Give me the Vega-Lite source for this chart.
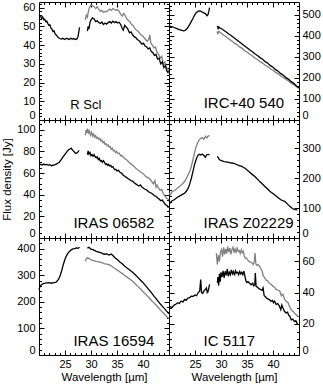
{
"$schema":"https://vega.github.io/schema/vega-lite/v6.json",
"background":"white",
"padding":{"left":1,"top":1,"right":0,"bottom":0},
"columns":2,
"spacing":0,
"bounds":"flush",
"datasets":{
"a":[
{"s":"b1","x":20,"y":56},{"s":"b1","x":20.3,"y":55.5},{"s":"b1","x":20.5,"y":54.2},{"s":"b1","x":20.7,"y":55},{"s":"b1","x":20.9,"y":53.5},{"s":"b1","x":21.1,"y":53.8},{"s":"b1","x":21.3,"y":52.5},{"s":"b1","x":21.5,"y":52.8},{"s":"b1","x":21.7,"y":51.5},{"s":"b1","x":21.9,"y":50.5},{"s":"b1","x":22.1,"y":50.8},{"s":"b1","x":22.3,"y":49},{"s":"b1","x":22.5,"y":48.5},{"s":"b1","x":22.7,"y":47.2},{"s":"b1","x":22.9,"y":47.5},{"s":"b1","x":23.1,"y":46},{"s":"b1","x":23.3,"y":45.4},{"s":"b1","x":23.5,"y":44.8},{"s":"b1","x":23.7,"y":44},{"s":"b1","x":24,"y":43.5},{"s":"b1","x":24.3,"y":43.2},{"s":"b1","x":24.6,"y":43.6},{"s":"b1","x":24.9,"y":43},{"s":"b1","x":25.2,"y":43.5},{"s":"b1","x":25.5,"y":43.4},{"s":"b1","x":25.8,"y":43},{"s":"b1","x":26.1,"y":43.6},{"s":"b1","x":26.4,"y":43.2},{"s":"b1","x":26.7,"y":43.5},{"s":"b1","x":27,"y":43},{"s":"b1","x":27.3,"y":43.3},{"s":"b1","x":27.5,"y":44.5},{"s":"b1","x":27.65,"y":47},{"s":"b1","x":27.8,"y":49.5},
{"s":"b2","x":29.3,"y":47.5},{"s":"b2","x":29.45,"y":50},{"s":"b2","x":29.6,"y":48.5},{"s":"b2","x":29.8,"y":52},{"s":"b2","x":30,"y":53.5},{"s":"b2","x":30.3,"y":54.5},{"s":"b2","x":30.6,"y":54},{"s":"b2","x":30.9,"y":52.5},{"s":"b2","x":31.2,"y":53},{"s":"b2","x":31.5,"y":52},{"s":"b2","x":31.8,"y":51.5},{"s":"b2","x":32.1,"y":52.3},{"s":"b2","x":32.4,"y":51},{"s":"b2","x":32.7,"y":51.8},{"s":"b2","x":33,"y":51.2},{"s":"b2","x":33.3,"y":52},{"s":"b2","x":33.6,"y":52.5},{"s":"b2","x":33.9,"y":51.8},{"s":"b2","x":34.2,"y":52.8},{"s":"b2","x":34.5,"y":52},{"s":"b2","x":34.8,"y":52.5},{"s":"b2","x":35.1,"y":51.8},{"s":"b2","x":35.4,"y":52.2},{"s":"b2","x":35.7,"y":51},{"s":"b2","x":36,"y":49},{"s":"b2","x":36.2,"y":48},{"s":"b2","x":36.5,"y":50.5},{"s":"b2","x":36.8,"y":49.5},{"s":"b2","x":37.1,"y":48.5},{"s":"b2","x":37.4,"y":46.5},{"s":"b2","x":37.7,"y":47},{"s":"b2","x":38,"y":45.5},{"s":"b2","x":38.3,"y":44.5},{"s":"b2","x":38.6,"y":44},{"s":"b2","x":38.9,"y":43},{"s":"b2","x":39.2,"y":42.5},{"s":"b2","x":39.5,"y":41.5},{"s":"b2","x":39.8,"y":40.5},{"s":"b2","x":40.1,"y":41},{"s":"b2","x":40.4,"y":39.5},{"s":"b2","x":40.7,"y":39},{"s":"b2","x":41,"y":38},{"s":"b2","x":41.3,"y":38.5},{"s":"b2","x":41.6,"y":36.5},{"s":"b2","x":41.9,"y":36},{"s":"b2","x":42.2,"y":34.5},{"s":"b2","x":42.5,"y":35},{"s":"b2","x":42.8,"y":32.5},{"s":"b2","x":43.1,"y":33},{"s":"b2","x":43.4,"y":30},{"s":"b2","x":43.7,"y":31},{"s":"b2","x":44,"y":28},{"s":"b2","x":44.3,"y":29},{"s":"b2","x":44.6,"y":26},{"s":"b2","x":44.9,"y":25},
{"s":"g","x":28.9,"y":53.5},{"s":"g","x":29.1,"y":56},{"s":"g","x":29.3,"y":55},{"s":"g","x":29.5,"y":58},{"s":"g","x":29.7,"y":60},{"s":"g","x":30,"y":61.5},{"s":"g","x":30.3,"y":61},{"s":"g","x":30.6,"y":60.5},{"s":"g","x":30.9,"y":59.5},{"s":"g","x":31.2,"y":60.5},{"s":"g","x":31.5,"y":59},{"s":"g","x":31.8,"y":58},{"s":"g","x":32.1,"y":58.5},{"s":"g","x":32.4,"y":57.5},{"s":"g","x":32.7,"y":58},{"s":"g","x":33,"y":57.8},{"s":"g","x":33.3,"y":58.5},{"s":"g","x":33.6,"y":59.2},{"s":"g","x":33.9,"y":58.5},{"s":"g","x":34.2,"y":59.5},{"s":"g","x":34.5,"y":59},{"s":"g","x":34.8,"y":58.5},{"s":"g","x":35.1,"y":59},{"s":"g","x":35.4,"y":58},{"s":"g","x":35.7,"y":56.5},{"s":"g","x":36,"y":55.5},{"s":"g","x":36.3,"y":57},{"s":"g","x":36.6,"y":55.5},{"s":"g","x":36.9,"y":54},{"s":"g","x":37.2,"y":53},{"s":"g","x":37.5,"y":52.5},{"s":"g","x":37.8,"y":51},{"s":"g","x":38.1,"y":50.5},{"s":"g","x":38.4,"y":49},{"s":"g","x":38.7,"y":48},{"s":"g","x":39,"y":47.5},{"s":"g","x":39.3,"y":46.5},{"s":"g","x":39.6,"y":45.5},{"s":"g","x":39.9,"y":45},{"s":"g","x":40.2,"y":44},{"s":"g","x":40.5,"y":43},{"s":"g","x":40.8,"y":42},{"s":"g","x":41.1,"y":43},{"s":"g","x":41.3,"y":45.5},{"s":"g","x":41.5,"y":41},{"s":"g","x":41.8,"y":40},{"s":"g","x":42.1,"y":38.5},{"s":"g","x":42.4,"y":39},{"s":"g","x":42.7,"y":36},{"s":"g","x":43,"y":35},{"s":"g","x":43.3,"y":33},{"s":"g","x":43.6,"y":34},{"s":"g","x":43.9,"y":30},{"s":"g","x":44.2,"y":31},{"s":"g","x":44.5,"y":28},{"s":"g","x":44.8,"y":27},{"s":"g","x":45,"y":26}
],
"b":[
{"s":"b1","x":20,"y":446},{"s":"b1","x":20.5,"y":443},{"s":"b1","x":21,"y":439},{"s":"b1","x":21.5,"y":434},{"s":"b1","x":22,"y":429},{"s":"b1","x":22.5,"y":425},{"s":"b1","x":22.8,"y":423},{"s":"b1","x":23.1,"y":425},{"s":"b1","x":23.4,"y":432},{"s":"b1","x":23.7,"y":442},{"s":"b1","x":24,"y":454},{"s":"b1","x":24.3,"y":468},{"s":"b1","x":24.6,"y":482},{"s":"b1","x":24.9,"y":497},{"s":"b1","x":25.2,"y":508},{"s":"b1","x":25.5,"y":515},{"s":"b1","x":25.8,"y":518},{"s":"b1","x":26.1,"y":517},{"s":"b1","x":26.4,"y":512},{"s":"b1","x":26.7,"y":508},{"s":"b1","x":27,"y":505},{"s":"b1","x":27.3,"y":495},{"s":"b1","x":27.5,"y":500},{"s":"b1","x":27.65,"y":514},{"s":"b1","x":27.8,"y":533},
{"s":"b2","x":29.3,"y":446},{"s":"b2","x":29.45,"y":434},{"s":"b2","x":29.6,"y":442},{"s":"b2","x":29.8,"y":436},{"s":"b2","x":30,"y":435},{"s":"b2","x":30.5,"y":426},{"s":"b2","x":31,"y":418},{"s":"b2","x":31.5,"y":408},{"s":"b2","x":32,"y":400},{"s":"b2","x":32.5,"y":390},{"s":"b2","x":33,"y":381},{"s":"b2","x":33.5,"y":371},{"s":"b2","x":34,"y":362},{"s":"b2","x":34.5,"y":352},{"s":"b2","x":35,"y":343},{"s":"b2","x":35.5,"y":333},{"s":"b2","x":36,"y":325},{"s":"b2","x":36.5,"y":314},{"s":"b2","x":37,"y":306},{"s":"b2","x":37.5,"y":296},{"s":"b2","x":38,"y":288},{"s":"b2","x":38.5,"y":277},{"s":"b2","x":39,"y":269},{"s":"b2","x":39.5,"y":258},{"s":"b2","x":40,"y":250},{"s":"b2","x":40.5,"y":239},{"s":"b2","x":41,"y":231},{"s":"b2","x":41.5,"y":220},{"s":"b2","x":42,"y":212},{"s":"b2","x":42.5,"y":201},{"s":"b2","x":43,"y":193},{"s":"b2","x":43.5,"y":182},{"s":"b2","x":44,"y":174},{"s":"b2","x":44.5,"y":163},{"s":"b2","x":45,"y":153},
{"s":"g","x":29.2,"y":420},{"s":"g","x":29.4,"y":410},{"s":"g","x":29.6,"y":421},{"s":"g","x":30,"y":413},{"s":"g","x":30.5,"y":402},{"s":"g","x":31,"y":395},{"s":"g","x":31.5,"y":384},{"s":"g","x":32,"y":377},{"s":"g","x":32.5,"y":366},{"s":"g","x":33,"y":359},{"s":"g","x":33.5,"y":348},{"s":"g","x":34,"y":341},{"s":"g","x":34.5,"y":330},{"s":"g","x":35,"y":323},{"s":"g","x":35.5,"y":312},{"s":"g","x":36,"y":305},{"s":"g","x":36.5,"y":294},{"s":"g","x":37,"y":287},{"s":"g","x":37.5,"y":277},{"s":"g","x":38,"y":270},{"s":"g","x":38.5,"y":260},{"s":"g","x":39,"y":253},{"s":"g","x":39.5,"y":243},{"s":"g","x":40,"y":236},{"s":"g","x":40.5,"y":226},{"s":"g","x":41,"y":219},{"s":"g","x":41.5,"y":209},{"s":"g","x":42,"y":202},{"s":"g","x":42.5,"y":192},{"s":"g","x":43,"y":185},{"s":"g","x":43.5,"y":175},{"s":"g","x":44,"y":167},{"s":"g","x":44.5,"y":158},{"s":"g","x":45,"y":150}
],
"c":[
{"s":"b1","x":20,"y":67},{"s":"b1","x":20.3,"y":68.2},{"s":"b1","x":20.6,"y":67.5},{"s":"b1","x":20.9,"y":68.3},{"s":"b1","x":21.2,"y":67.6},{"s":"b1","x":21.5,"y":68},{"s":"b1","x":21.8,"y":67.3},{"s":"b1","x":22.1,"y":67.8},{"s":"b1","x":22.4,"y":66.8},{"s":"b1","x":22.7,"y":67.2},{"s":"b1","x":23,"y":67.6},{"s":"b1","x":23.3,"y":68.2},{"s":"b1","x":23.6,"y":69},{"s":"b1","x":23.9,"y":70},{"s":"b1","x":24.2,"y":72},{"s":"b1","x":24.5,"y":74},{"s":"b1","x":24.8,"y":76},{"s":"b1","x":25.1,"y":78},{"s":"b1","x":25.4,"y":80},{"s":"b1","x":25.7,"y":81.5},{"s":"b1","x":26,"y":82.5},{"s":"b1","x":26.2,"y":83},{"s":"b1","x":26.4,"y":81.5},{"s":"b1","x":26.6,"y":80.5},{"s":"b1","x":26.9,"y":79},{"s":"b1","x":27.1,"y":78},{"s":"b1","x":27.3,"y":78.5},{"s":"b1","x":27.5,"y":79.5},{"s":"b1","x":27.7,"y":81},
{"s":"b2","x":29.3,"y":77},{"s":"b2","x":29.45,"y":80.5},{"s":"b2","x":29.6,"y":77.5},{"s":"b2","x":29.8,"y":79},{"s":"b2","x":30,"y":76},{"s":"b2","x":30.2,"y":77},{"s":"b2","x":30.4,"y":75.5},{"s":"b2","x":30.6,"y":77},{"s":"b2","x":30.8,"y":75},{"s":"b2","x":31,"y":74},{"s":"b2","x":31.2,"y":75},{"s":"b2","x":31.4,"y":72.5},{"s":"b2","x":31.6,"y":73.5},{"s":"b2","x":31.8,"y":71},{"s":"b2","x":32,"y":71.5},{"s":"b2","x":32.2,"y":70},{"s":"b2","x":32.4,"y":71.5},{"s":"b2","x":32.6,"y":70},{"s":"b2","x":32.8,"y":68},{"s":"b2","x":33,"y":68.5},{"s":"b2","x":33.2,"y":67},{"s":"b2","x":33.4,"y":68},{"s":"b2","x":33.6,"y":66.5},{"s":"b2","x":33.8,"y":67},{"s":"b2","x":34,"y":65.5},{"s":"b2","x":34.2,"y":66},{"s":"b2","x":34.4,"y":64},{"s":"b2","x":34.6,"y":63},{"s":"b2","x":34.8,"y":63.5},{"s":"b2","x":35,"y":62},{"s":"b2","x":35.3,"y":62.5},{"s":"b2","x":35.6,"y":60.5},{"s":"b2","x":35.9,"y":60},{"s":"b2","x":36.2,"y":58},{"s":"b2","x":36.5,"y":57},{"s":"b2","x":36.8,"y":56},{"s":"b2","x":37.1,"y":55},{"s":"b2","x":37.4,"y":54},{"s":"b2","x":37.7,"y":53},{"s":"b2","x":38,"y":52.5},{"s":"b2","x":38.3,"y":51},{"s":"b2","x":38.6,"y":50},{"s":"b2","x":38.9,"y":49},{"s":"b2","x":39.2,"y":48},{"s":"b2","x":39.5,"y":49},{"s":"b2","x":39.8,"y":47},{"s":"b2","x":40.1,"y":46},{"s":"b2","x":40.4,"y":45},{"s":"b2","x":40.7,"y":44.5},{"s":"b2","x":41,"y":43},{"s":"b2","x":41.3,"y":42},{"s":"b2","x":41.6,"y":41.5},{"s":"b2","x":41.9,"y":40.5},{"s":"b2","x":42.2,"y":39},{"s":"b2","x":42.5,"y":38.5},{"s":"b2","x":42.8,"y":37},{"s":"b2","x":43.1,"y":36},{"s":"b2","x":43.4,"y":34.5},{"s":"b2","x":43.7,"y":35},{"s":"b2","x":44,"y":33},{"s":"b2","x":44.3,"y":31},{"s":"b2","x":44.6,"y":30},{"s":"b2","x":44.9,"y":28},
{"s":"g","x":28.9,"y":95},{"s":"g","x":29.05,"y":100},{"s":"g","x":29.2,"y":97},{"s":"g","x":29.35,"y":101},{"s":"g","x":29.5,"y":97},{"s":"g","x":29.7,"y":99},{"s":"g","x":29.9,"y":95},{"s":"g","x":30.1,"y":97.5},{"s":"g","x":30.3,"y":94},{"s":"g","x":30.5,"y":96},{"s":"g","x":30.7,"y":93},{"s":"g","x":30.9,"y":94.5},{"s":"g","x":31.1,"y":92},{"s":"g","x":31.3,"y":93},{"s":"g","x":31.5,"y":91},{"s":"g","x":31.7,"y":92},{"s":"g","x":31.9,"y":89.5},{"s":"g","x":32.1,"y":90.5},{"s":"g","x":32.3,"y":88},{"s":"g","x":32.5,"y":89},{"s":"g","x":32.7,"y":86.5},{"s":"g","x":32.9,"y":87},{"s":"g","x":33.1,"y":85},{"s":"g","x":33.3,"y":86},{"s":"g","x":33.5,"y":84},{"s":"g","x":33.7,"y":84.5},{"s":"g","x":33.9,"y":82},{"s":"g","x":34.1,"y":83},{"s":"g","x":34.3,"y":80.5},{"s":"g","x":34.5,"y":81},{"s":"g","x":34.7,"y":79},{"s":"g","x":34.9,"y":80},{"s":"g","x":35.1,"y":78},{"s":"g","x":35.4,"y":78.5},{"s":"g","x":35.7,"y":76},{"s":"g","x":36,"y":76},{"s":"g","x":36.3,"y":74},{"s":"g","x":36.6,"y":73},{"s":"g","x":36.9,"y":72},{"s":"g","x":37.2,"y":70.5},{"s":"g","x":37.5,"y":69},{"s":"g","x":37.8,"y":68},{"s":"g","x":38.1,"y":67},{"s":"g","x":38.4,"y":65.5},{"s":"g","x":38.7,"y":64},{"s":"g","x":39,"y":63},{"s":"g","x":39.3,"y":62},{"s":"g","x":39.6,"y":60.5},{"s":"g","x":39.9,"y":60},{"s":"g","x":40.2,"y":58.5},{"s":"g","x":40.5,"y":57},{"s":"g","x":40.8,"y":56},{"s":"g","x":41.1,"y":55.5},{"s":"g","x":41.4,"y":54},{"s":"g","x":41.7,"y":52},{"s":"g","x":42,"y":50},{"s":"g","x":42.3,"y":53},{"s":"g","x":42.5,"y":47},{"s":"g","x":42.7,"y":49},{"s":"g","x":43,"y":46},{"s":"g","x":43.3,"y":44},{"s":"g","x":43.6,"y":45},{"s":"g","x":43.9,"y":41},{"s":"g","x":44.2,"y":39},{"s":"g","x":44.5,"y":37},{"s":"g","x":44.8,"y":36},{"s":"g","x":45,"y":35}
],
"d":[
{"s":"b1","x":20,"y":122},{"s":"b1","x":20.3,"y":118},{"s":"b1","x":20.6,"y":125},{"s":"b1","x":21,"y":128},{"s":"b1","x":21.5,"y":135},{"s":"b1","x":22,"y":140},{"s":"b1","x":22.5,"y":145},{"s":"b1","x":23,"y":150},{"s":"b1","x":23.4,"y":158},{"s":"b1","x":23.7,"y":167},{"s":"b1","x":24,"y":182},{"s":"b1","x":24.3,"y":200},{"s":"b1","x":24.6,"y":222},{"s":"b1","x":24.9,"y":245},{"s":"b1","x":25.2,"y":262},{"s":"b1","x":25.5,"y":275},{"s":"b1","x":25.8,"y":280},{"s":"b1","x":26.1,"y":278},{"s":"b1","x":26.4,"y":281},{"s":"b1","x":26.7,"y":276},{"s":"b1","x":27,"y":270},{"s":"b1","x":27.2,"y":278},{"s":"b1","x":27.5,"y":280},{"s":"b1","x":27.8,"y":279},
{"s":"g","x":20,"y":150},{"s":"g","x":20.3,"y":145},{"s":"g","x":20.6,"y":155},{"s":"g","x":21,"y":158},{"s":"g","x":21.5,"y":165},{"s":"g","x":22,"y":172},{"s":"g","x":22.5,"y":180},{"s":"g","x":23,"y":189},{"s":"g","x":23.5,"y":205},{"s":"g","x":24,"y":223},{"s":"g","x":24.3,"y":240},{"s":"g","x":24.6,"y":262},{"s":"g","x":24.9,"y":285},{"s":"g","x":25.2,"y":305},{"s":"g","x":25.5,"y":318},{"s":"g","x":25.8,"y":328},{"s":"g","x":26.1,"y":334},{"s":"g","x":26.4,"y":336},{"s":"g","x":26.7,"y":330},{"s":"g","x":27,"y":340},{"s":"g","x":27.3,"y":335},{"s":"g","x":27.5,"y":341},{"s":"g","x":27.8,"y":343},
{"s":"b2","x":29.3,"y":273},{"s":"b2","x":29.5,"y":268},{"s":"b2","x":29.7,"y":262},{"s":"b2","x":30.1,"y":259},{"s":"b2","x":30.6,"y":256},{"s":"b2","x":31,"y":255},{"s":"b2","x":31.5,"y":253},{"s":"b2","x":32,"y":251},{"s":"b2","x":32.5,"y":250},{"s":"b2","x":33,"y":246},{"s":"b2","x":33.5,"y":242},{"s":"b2","x":34,"y":240},{"s":"b2","x":34.3,"y":236},{"s":"b2","x":34.6,"y":234},{"s":"b2","x":35,"y":228},{"s":"b2","x":35.5,"y":220},{"s":"b2","x":36,"y":213},{"s":"b2","x":36.5,"y":206},{"s":"b2","x":37,"y":197},{"s":"b2","x":37.5,"y":188},{"s":"b2","x":38,"y":180},{"s":"b2","x":38.4,"y":173},{"s":"b2","x":39,"y":163},{"s":"b2","x":39.5,"y":155},{"s":"b2","x":40,"y":149},{"s":"b2","x":40.3,"y":145},{"s":"b2","x":41,"y":135},{"s":"b2","x":41.5,"y":128},{"s":"b2","x":42,"y":124},{"s":"b2","x":42.3,"y":122},{"s":"b2","x":43,"y":110},{"s":"b2","x":43.5,"y":102},{"s":"b2","x":43.8,"y":98},{"s":"b2","x":44.2,"y":95},{"s":"b2","x":44.7,"y":94}
],
"e":[
{"s":"b1","x":20,"y":246},{"s":"b1","x":20.2,"y":258},{"s":"b1","x":20.5,"y":265},{"s":"b1","x":20.8,"y":268},{"s":"b1","x":21.2,"y":270},{"s":"b1","x":21.6,"y":271},{"s":"b1","x":22,"y":272},{"s":"b1","x":22.4,"y":270},{"s":"b1","x":22.8,"y":272},{"s":"b1","x":23.2,"y":273},{"s":"b1","x":23.5,"y":278},{"s":"b1","x":23.8,"y":286},{"s":"b1","x":24.1,"y":300},{"s":"b1","x":24.4,"y":320},{"s":"b1","x":24.7,"y":342},{"s":"b1","x":25,"y":360},{"s":"b1","x":25.3,"y":374},{"s":"b1","x":25.6,"y":384},{"s":"b1","x":26,"y":392},{"s":"b1","x":26.4,"y":398},{"s":"b1","x":26.8,"y":400},{"s":"b1","x":27.2,"y":403},{"s":"b1","x":27.5,"y":401},{"s":"b1","x":27.8,"y":405},
{"s":"b2","x":29.3,"y":402},{"s":"b2","x":29.6,"y":405},{"s":"b2","x":30,"y":398},{"s":"b2","x":30.5,"y":395},{"s":"b2","x":31,"y":390},{"s":"b2","x":31.5,"y":387},{"s":"b2","x":32,"y":384},{"s":"b2","x":32.5,"y":379},{"s":"b2","x":33,"y":380},{"s":"b2","x":33.5,"y":376},{"s":"b2","x":33.9,"y":380},{"s":"b2","x":34.2,"y":374},{"s":"b2","x":34.6,"y":366},{"s":"b2","x":35,"y":360},{"s":"b2","x":35.5,"y":351},{"s":"b2","x":36,"y":343},{"s":"b2","x":36.5,"y":334},{"s":"b2","x":37,"y":326},{"s":"b2","x":37.5,"y":319},{"s":"b2","x":38,"y":311},{"s":"b2","x":38.5,"y":302},{"s":"b2","x":39,"y":292},{"s":"b2","x":39.5,"y":282},{"s":"b2","x":40,"y":272},{"s":"b2","x":40.5,"y":261},{"s":"b2","x":41,"y":249},{"s":"b2","x":41.5,"y":237},{"s":"b2","x":42,"y":224},{"s":"b2","x":42.5,"y":212},{"s":"b2","x":43,"y":200},{"s":"b2","x":43.5,"y":188},{"s":"b2","x":44,"y":177},{"s":"b2","x":44.5,"y":166},{"s":"b2","x":45,"y":155},
{"s":"g","x":28.9,"y":353},{"s":"g","x":29.1,"y":362},{"s":"g","x":29.4,"y":366},{"s":"g","x":29.8,"y":360},{"s":"g","x":30.3,"y":356},{"s":"g","x":31,"y":352},{"s":"g","x":31.5,"y":350},{"s":"g","x":32,"y":348},{"s":"g","x":32.5,"y":344},{"s":"g","x":33,"y":342},{"s":"g","x":33.5,"y":340},{"s":"g","x":34,"y":334},{"s":"g","x":34.5,"y":326},{"s":"g","x":35,"y":320},{"s":"g","x":35.5,"y":313},{"s":"g","x":36,"y":306},{"s":"g","x":36.5,"y":299},{"s":"g","x":37,"y":292},{"s":"g","x":37.5,"y":285},{"s":"g","x":38,"y":277},{"s":"g","x":38.5,"y":268},{"s":"g","x":39,"y":258},{"s":"g","x":39.5,"y":249},{"s":"g","x":40,"y":238},{"s":"g","x":40.5,"y":229},{"s":"g","x":41,"y":219},{"s":"g","x":41.5,"y":208},{"s":"g","x":42,"y":198},{"s":"g","x":42.5,"y":188},{"s":"g","x":43,"y":177},{"s":"g","x":43.5,"y":166},{"s":"g","x":44,"y":156},{"s":"g","x":44.5,"y":146},{"s":"g","x":45,"y":137}
],
"f":[
{"s":"b1","x":20,"y":30.3},{"s":"b1","x":20.3,"y":31},{"s":"b1","x":20.6,"y":30.5},{"s":"b1","x":21,"y":32},{"s":"b1","x":21.3,"y":32.5},{"s":"b1","x":21.7,"y":33.5},{"s":"b1","x":22,"y":33},{"s":"b1","x":22.3,"y":34.5},{"s":"b1","x":22.7,"y":34},{"s":"b1","x":23,"y":35.6},{"s":"b1","x":23.3,"y":35},{"s":"b1","x":23.6,"y":36.5},{"s":"b1","x":24,"y":36.8},{"s":"b1","x":24.3,"y":37.7},{"s":"b1","x":24.6,"y":37.5},{"s":"b1","x":25,"y":38.5},{"s":"b1","x":25.3,"y":38},{"s":"b1","x":25.6,"y":39.9},{"s":"b1","x":25.9,"y":41},{"s":"b1","x":26.1,"y":48.4},{"s":"b1","x":26.25,"y":40},{"s":"b1","x":26.5,"y":39.5},{"s":"b1","x":26.8,"y":41.5},{"s":"b1","x":27,"y":42},{"s":"b1","x":27.2,"y":43},{"s":"b1","x":27.35,"y":40},{"s":"b1","x":27.5,"y":40.5},{"s":"b1","x":27.8,"y":45.2},
{"s":"b2","x":29.3,"y":46.2},{"s":"b2","x":29.4,"y":50},{"s":"b2","x":29.55,"y":44.5},{"s":"b2","x":29.7,"y":52},{"s":"b2","x":29.85,"y":47},{"s":"b2","x":30,"y":53},{"s":"b2","x":30.2,"y":50},{"s":"b2","x":30.4,"y":54},{"s":"b2","x":30.6,"y":49.5},{"s":"b2","x":30.8,"y":53.7},{"s":"b2","x":31,"y":51},{"s":"b2","x":31.2,"y":55},{"s":"b2","x":31.4,"y":50.5},{"s":"b2","x":31.6,"y":53},{"s":"b2","x":31.8,"y":51.5},{"s":"b2","x":32,"y":54.5},{"s":"b2","x":32.2,"y":52},{"s":"b2","x":32.4,"y":53.5},{"s":"b2","x":32.6,"y":51},{"s":"b2","x":32.8,"y":54},{"s":"b2","x":33,"y":52.5},{"s":"b2","x":33.2,"y":53},{"s":"b2","x":33.4,"y":51.5},{"s":"b2","x":33.6,"y":53.5},{"s":"b2","x":33.8,"y":52},{"s":"b2","x":34,"y":53},{"s":"b2","x":34.2,"y":51.5},{"s":"b2","x":34.4,"y":53.8},{"s":"b2","x":34.6,"y":50.5},{"s":"b2","x":34.8,"y":47.5},{"s":"b2","x":35,"y":46.5},{"s":"b2","x":35.2,"y":47},{"s":"b2","x":35.5,"y":46},{"s":"b2","x":35.8,"y":45},{"s":"b2","x":36.1,"y":46},{"s":"b2","x":36.3,"y":44.3},{"s":"b2","x":36.5,"y":45},{"s":"b2","x":36.6,"y":52.6},{"s":"b2","x":36.75,"y":44},{"s":"b2","x":37,"y":43.5},{"s":"b2","x":37.3,"y":42.5},{"s":"b2","x":37.6,"y":42},{"s":"b2","x":37.9,"y":41.5},{"s":"b2","x":38.1,"y":43},{"s":"b2","x":38.3,"y":38},{"s":"b2","x":38.5,"y":37.5},{"s":"b2","x":38.7,"y":36.7},{"s":"b2","x":39,"y":36},{"s":"b2","x":39.3,"y":35.5},{"s":"b2","x":39.6,"y":34.5},{"s":"b2","x":39.9,"y":35},{"s":"b2","x":40.1,"y":33.5},{"s":"b2","x":40.3,"y":34.6},{"s":"b2","x":40.6,"y":32.5},{"s":"b2","x":40.9,"y":33},{"s":"b2","x":41.2,"y":31.5},{"s":"b2","x":41.5,"y":29},{"s":"b2","x":41.7,"y":32},{"s":"b2","x":41.9,"y":30.3},{"s":"b2","x":42.2,"y":28},{"s":"b2","x":42.5,"y":27},{"s":"b2","x":42.8,"y":27.5},{"s":"b2","x":43,"y":25.5},{"s":"b2","x":43.2,"y":25},{"s":"b2","x":43.5,"y":22.5},{"s":"b2","x":43.8,"y":23},{"s":"b2","x":44.1,"y":21.5},{"s":"b2","x":44.4,"y":22},{"s":"b2","x":44.7,"y":19.7},
{"s":"g","x":29.1,"y":65.4},{"s":"g","x":29.3,"y":58},{"s":"g","x":29.5,"y":64},{"s":"g","x":29.7,"y":60},{"s":"g","x":29.9,"y":66},{"s":"g","x":30.1,"y":67.6},{"s":"g","x":30.3,"y":63},{"s":"g","x":30.5,"y":69},{"s":"g","x":30.7,"y":64.5},{"s":"g","x":30.9,"y":68},{"s":"g","x":31.1,"y":65},{"s":"g","x":31.3,"y":69.5},{"s":"g","x":31.5,"y":66},{"s":"g","x":31.7,"y":68.5},{"s":"g","x":31.9,"y":64.5},{"s":"g","x":32.1,"y":67.5},{"s":"g","x":32.3,"y":69},{"s":"g","x":32.5,"y":66},{"s":"g","x":32.7,"y":68},{"s":"g","x":32.9,"y":65.5},{"s":"g","x":33.1,"y":68.5},{"s":"g","x":33.3,"y":66.5},{"s":"g","x":33.5,"y":67},{"s":"g","x":33.7,"y":65},{"s":"g","x":33.9,"y":67.5},{"s":"g","x":34.1,"y":65.5},{"s":"g","x":34.3,"y":66.5},{"s":"g","x":34.5,"y":63},{"s":"g","x":34.7,"y":62},{"s":"g","x":34.9,"y":62.2},{"s":"g","x":35.1,"y":61},{"s":"g","x":35.4,"y":60},{"s":"g","x":35.7,"y":59.5},{"s":"g","x":36,"y":59},{"s":"g","x":36.2,"y":58},{"s":"g","x":36.4,"y":60},{"s":"g","x":36.55,"y":65.4},{"s":"g","x":36.7,"y":58.5},{"s":"g","x":36.9,"y":57.5},{"s":"g","x":37.1,"y":58},{"s":"g","x":37.4,"y":56.9},{"s":"g","x":37.7,"y":55},{"s":"g","x":37.9,"y":54},{"s":"g","x":38.1,"y":51},{"s":"g","x":38.4,"y":49.4},{"s":"g","x":38.7,"y":48},{"s":"g","x":39,"y":47.5},{"s":"g","x":39.3,"y":46},{"s":"g","x":39.7,"y":45.2},{"s":"g","x":40,"y":44},{"s":"g","x":40.3,"y":43.5},{"s":"g","x":40.6,"y":42},{"s":"g","x":41,"y":41.5},{"s":"g","x":41.3,"y":41},{"s":"g","x":41.6,"y":38},{"s":"g","x":41.9,"y":39},{"s":"g","x":42.2,"y":36},{"s":"g","x":42.5,"y":34.5},{"s":"g","x":42.9,"y":33.5},{"s":"g","x":43.2,"y":31},{"s":"g","x":43.5,"y":29},{"s":"g","x":43.8,"y":28},{"s":"g","x":44.1,"y":27},{"s":"g","x":44.4,"y":26},{"s":"g","x":44.7,"y":25},{"s":"g","x":45,"y":24.5}
]
},
"concat":[
{"width":130,"height":118,"data":{"name":"a"},
 "layer":[
  {"transform":[{"filter":"datum.s=='g'"}],"mark":{"type":"line","color":"#808080","strokeWidth":1.3},
   "encoding":{"x":{"field":"x","type":"quantitative","scale":{"domain":[20,45],"nice":false,"zero":false},"axis":{"orient":"bottom","values":[25,30,35,40],"labels":false,"title":null}},
               "y":{"field":"y","type":"quantitative","scale":{"domain":[0,63],"nice":false,"zero":false},"axis":{"orient":"left","values":[0,10,20,30,40,50,60],"labelFlush":true,"title":null}}}},
  {"transform":[{"filter":"datum.s=='b1'"}],"mark":{"type":"line","color":"black","strokeWidth":1.3},
   "encoding":{"x":{"field":"x","type":"quantitative","scale":{"domain":[20,45],"nice":false,"zero":false},"axis":{"orient":"top","values":[25,30,35,40],"labels":false,"title":null}},
               "y":{"field":"y","type":"quantitative","scale":{"domain":[0,63],"nice":false,"zero":false},"axis":{"orient":"right","values":[0,10,20,30,40,50,60],"labels":false,"title":null}}}},
  {"transform":[{"filter":"datum.s=='b2'"}],"mark":{"type":"line","color":"black","strokeWidth":1.3},
   "encoding":{"x":{"field":"x","type":"quantitative","scale":{"domain":[20,45],"nice":false,"zero":false},"axis":{"orient":"bottom","values":[21,22,23,24,26,27,28,29,31,32,33,34,36,37,38,39,41,42,43,44],"labels":false,"tickSize":-2.5,"title":null}},
               "y":{"field":"y","type":"quantitative","scale":{"domain":[0,63],"nice":false,"zero":false},"axis":{"orient":"left","values":[2,4,6,8,12,14,16,18,22,24,26,28,32,34,36,38,42,44,46,48,52,54,56,58,62],"labels":false,"tickSize":-2.5,"title":null}}}},
  {"data":{"values":[{"t":"R Scl"}]},"mark":{"type":"text","fontSize":13,"fontWeight":"normal","align":"center","baseline":"alphabetic","font":"Liberation Sans","color":"black"},
   "encoding":{"text":{"field":"t"},
               "x":{"datum":29,"type":"quantitative","scale":{"domain":[20,45],"nice":false,"zero":false},"axis":{"orient":"top","values":[21,22,23,24,26,27,28,29,31,32,33,34,36,37,38,39,41,42,43,44],"labels":false,"tickSize":-2.5,"title":null}},
               "y":{"datum":6,"type":"quantitative","scale":{"domain":[0,63],"nice":false,"zero":false},"axis":{"orient":"right","values":[2,4,6,8,12,14,16,18,22,24,26,28,32,34,36,38,42,44,46,48,52,54,56,58,62],"labels":false,"tickSize":-2.5,"title":null}}}}
 ],
 "resolve":{"axis":{"x":"independent","y":"independent"}}},
{"width":130,"height":118,"data":{"name":"b"},
 "layer":[
  {"transform":[{"filter":"datum.s=='g'"}],"mark":{"type":"line","color":"#808080","strokeWidth":1.3},
   "encoding":{"x":{"field":"x","type":"quantitative","scale":{"domain":[20,45],"nice":false,"zero":false},"axis":{"orient":"bottom","values":[25,30,35,40],"labels":false,"title":null}},
               "y":{"field":"y","type":"quantitative","scale":{"domain":[0,560],"nice":false,"zero":false},"axis":{"orient":"left","values":[0,100,200,300,400,500],"labels":false,"title":null}}}},
  {"transform":[{"filter":"datum.s=='b1'"}],"mark":{"type":"line","color":"black","strokeWidth":1.3},
   "encoding":{"x":{"field":"x","type":"quantitative","scale":{"domain":[20,45],"nice":false,"zero":false},"axis":{"orient":"top","values":[25,30,35,40],"labels":false,"title":null}},
               "y":{"field":"y","type":"quantitative","scale":{"domain":[0,560],"nice":false,"zero":false},"axis":{"orient":"right","values":[0,100,200,300,400,500],"labelFlush":true,"labelPadding":8,"title":null}}}},
  {"transform":[{"filter":"datum.s=='b2'"}],"mark":{"type":"line","color":"black","strokeWidth":1.3},
   "encoding":{"x":{"field":"x","type":"quantitative","scale":{"domain":[20,45],"nice":false,"zero":false},"axis":{"orient":"bottom","values":[21,22,23,24,26,27,28,29,31,32,33,34,36,37,38,39,41,42,43,44],"labels":false,"tickSize":-2.5,"title":null}},
               "y":{"field":"y","type":"quantitative","scale":{"domain":[0,560],"nice":false,"zero":false},"axis":{"orient":"left","values":[20,40,60,80,120,140,160,180,220,240,260,280,320,340,360,380,420,440,460,480,520,540],"labels":false,"tickSize":-2.5,"title":null}}}},
  {"data":{"values":[{"t":"IRC+40 540"}]},"mark":{"type":"text","fontSize":15,"fontWeight":"normal","align":"center","baseline":"alphabetic","font":"Liberation Sans","color":"black"},
   "encoding":{"text":{"field":"t"},
               "x":{"datum":34.4,"type":"quantitative","scale":{"domain":[20,45],"nice":false,"zero":false},"axis":{"orient":"top","values":[21,22,23,24,26,27,28,29,31,32,33,34,36,37,38,39,41,42,43,44],"labels":false,"tickSize":-2.5,"title":null}},
               "y":{"datum":59,"type":"quantitative","scale":{"domain":[0,560],"nice":false,"zero":false},"axis":{"orient":"right","values":[20,40,60,80,120,140,160,180,220,240,260,280,320,340,360,380,420,440,460,480,520,540],"labels":false,"tickSize":-2.5,"title":null}}}}
 ],
 "resolve":{"axis":{"x":"independent","y":"independent"}}},
{"width":130,"height":118,"data":{"name":"c"},
 "layer":[
  {"transform":[{"filter":"datum.s=='g'"}],"mark":{"type":"line","color":"#808080","strokeWidth":1.3},
   "encoding":{"x":{"field":"x","type":"quantitative","scale":{"domain":[20,45],"nice":false,"zero":false},"axis":{"orient":"bottom","values":[25,30,35,40],"labels":false,"title":null}},
               "y":{"field":"y","type":"quantitative","scale":{"domain":[0,109],"nice":false,"zero":false},"axis":{"orient":"left","values":[0,20,40,60,80,100],"labelFlush":true,"title":"Flux density [Jy]","titlePadding":4}}}},
  {"transform":[{"filter":"datum.s=='b1'"}],"mark":{"type":"line","color":"black","strokeWidth":1.3},
   "encoding":{"x":{"field":"x","type":"quantitative","scale":{"domain":[20,45],"nice":false,"zero":false},"axis":{"orient":"top","values":[25,30,35,40],"labels":false,"title":null}},
               "y":{"field":"y","type":"quantitative","scale":{"domain":[0,109],"nice":false,"zero":false},"axis":{"orient":"right","values":[0,20,40,60,80,100],"labels":false,"title":null}}}},
  {"transform":[{"filter":"datum.s=='b2'"}],"mark":{"type":"line","color":"black","strokeWidth":1.3},
   "encoding":{"x":{"field":"x","type":"quantitative","scale":{"domain":[20,45],"nice":false,"zero":false},"axis":{"orient":"bottom","values":[21,22,23,24,26,27,28,29,31,32,33,34,36,37,38,39,41,42,43,44],"labels":false,"tickSize":-2.5,"title":null}},
               "y":{"field":"y","type":"quantitative","scale":{"domain":[0,109],"nice":false,"zero":false},"axis":{"orient":"left","values":[5,10,15,25,30,35,45,50,55,65,70,75,85,90,95,105],"labels":false,"tickSize":-2.5,"title":null}}}},
  {"data":{"values":[{"t":"IRAS 06582"}]},"mark":{"type":"text","fontSize":15,"fontWeight":"normal","align":"center","baseline":"alphabetic","font":"Liberation Sans","color":"black"},
   "encoding":{"text":{"field":"t"},
               "x":{"datum":34.4,"type":"quantitative","scale":{"domain":[20,45],"nice":false,"zero":false},"axis":{"orient":"top","values":[21,22,23,24,26,27,28,29,31,32,33,34,36,37,38,39,41,42,43,44],"labels":false,"tickSize":-2.5,"title":null}},
               "y":{"datum":9.6,"type":"quantitative","scale":{"domain":[0,109],"nice":false,"zero":false},"axis":{"orient":"right","values":[5,10,15,25,30,35,45,50,55,65,70,75,85,90,95,105],"labels":false,"tickSize":-2.5,"title":null}}}}
 ],
 "resolve":{"axis":{"x":"independent","y":"independent"}}},
{"width":130,"height":118,"data":{"name":"d"},
 "layer":[
  {"transform":[{"filter":"datum.s=='g'"}],"mark":{"type":"line","color":"#808080","strokeWidth":1.3},
   "encoding":{"x":{"field":"x","type":"quantitative","scale":{"domain":[20,45],"nice":false,"zero":false},"axis":{"orient":"bottom","values":[25,30,35,40],"labels":false,"title":null}},
               "y":{"field":"y","type":"quantitative","scale":{"domain":[0,395],"nice":false,"zero":false},"axis":{"orient":"left","values":[0,100,200,300],"labels":false,"title":null}}}},
  {"transform":[{"filter":"datum.s=='b1'"}],"mark":{"type":"line","color":"black","strokeWidth":1.3},
   "encoding":{"x":{"field":"x","type":"quantitative","scale":{"domain":[20,45],"nice":false,"zero":false},"axis":{"orient":"top","values":[25,30,35,40],"labels":false,"title":null}},
               "y":{"field":"y","type":"quantitative","scale":{"domain":[0,395],"nice":false,"zero":false},"axis":{"orient":"right","values":[0,100,200,300],"labelFlush":true,"labelPadding":8,"title":null}}}},
  {"transform":[{"filter":"datum.s=='b2'"}],"mark":{"type":"line","color":"black","strokeWidth":1.3},
   "encoding":{"x":{"field":"x","type":"quantitative","scale":{"domain":[20,45],"nice":false,"zero":false},"axis":{"orient":"bottom","values":[21,22,23,24,26,27,28,29,31,32,33,34,36,37,38,39,41,42,43,44],"labels":false,"tickSize":-2.5,"title":null}},
               "y":{"field":"y","type":"quantitative","scale":{"domain":[0,395],"nice":false,"zero":false},"axis":{"orient":"left","values":[20,40,60,80,120,140,160,180,220,240,260,280,320,340,360,380],"labels":false,"tickSize":-2.5,"title":null}}}},
  {"data":{"values":[{"t":"IRAS Z02229"}]},"mark":{"type":"text","fontSize":15,"fontWeight":"normal","align":"center","baseline":"alphabetic","font":"Liberation Sans","color":"black"},
   "encoding":{"text":{"field":"t"},
               "x":{"datum":35.3,"type":"quantitative","scale":{"domain":[20,45],"nice":false,"zero":false},"axis":{"orient":"top","values":[21,22,23,24,26,27,28,29,31,32,33,34,36,37,38,39,41,42,43,44],"labels":false,"tickSize":-2.5,"title":null}},
               "y":{"datum":35,"type":"quantitative","scale":{"domain":[0,395],"nice":false,"zero":false},"axis":{"orient":"right","values":[20,40,60,80,120,140,160,180,220,240,260,280,320,340,360,380],"labels":false,"tickSize":-2.5,"title":null}}}}
 ],
 "resolve":{"axis":{"x":"independent","y":"independent"}}},
{"width":130,"height":117,"data":{"name":"e"},
 "layer":[
  {"transform":[{"filter":"datum.s=='g'"}],"mark":{"type":"line","color":"#808080","strokeWidth":1.3},
   "encoding":{"x":{"field":"x","type":"quantitative","scale":{"domain":[20,45],"nice":false,"zero":false},"axis":{"orient":"bottom","values":[25,30,35,40],"title":"Wavelength [µm]","titlePadding":2}},
               "y":{"field":"y","type":"quantitative","scale":{"domain":[0,440],"nice":false,"zero":false},"axis":{"orient":"left","values":[0,100,200,300,400],"labelFlush":true,"title":null}}}},
  {"transform":[{"filter":"datum.s=='b1'"}],"mark":{"type":"line","color":"black","strokeWidth":1.3},
   "encoding":{"x":{"field":"x","type":"quantitative","scale":{"domain":[20,45],"nice":false,"zero":false},"axis":{"orient":"top","values":[25,30,35,40],"labels":false,"title":null}},
               "y":{"field":"y","type":"quantitative","scale":{"domain":[0,440],"nice":false,"zero":false},"axis":{"orient":"right","values":[0,100,200,300,400],"labels":false,"title":null}}}},
  {"transform":[{"filter":"datum.s=='b2'"}],"mark":{"type":"line","color":"black","strokeWidth":1.3},
   "encoding":{"x":{"field":"x","type":"quantitative","scale":{"domain":[20,45],"nice":false,"zero":false},"axis":{"orient":"bottom","values":[21,22,23,24,26,27,28,29,31,32,33,34,36,37,38,39,41,42,43,44],"labels":false,"tickSize":-2.5,"title":null}},
               "y":{"field":"y","type":"quantitative","scale":{"domain":[0,440],"nice":false,"zero":false},"axis":{"orient":"left","values":[20,40,60,80,120,140,160,180,220,240,260,280,320,340,360,380,420],"labels":false,"tickSize":-2.5,"title":null}}}},
  {"data":{"values":[{"t":"IRAS 16594"}]},"mark":{"type":"text","fontSize":15,"fontWeight":"normal","align":"center","baseline":"alphabetic","font":"Liberation Sans","color":"black"},
   "encoding":{"text":{"field":"t"},
               "x":{"datum":34.4,"type":"quantitative","scale":{"domain":[20,45],"nice":false,"zero":false},"axis":{"orient":"top","values":[21,22,23,24,26,27,28,29,31,32,33,34,36,37,38,39,41,42,43,44],"labels":false,"tickSize":-2.5,"title":null}},
               "y":{"datum":34,"type":"quantitative","scale":{"domain":[0,440],"nice":false,"zero":false},"axis":{"orient":"right","values":[20,40,60,80,120,140,160,180,220,240,260,280,320,340,360,380,420],"labels":false,"tickSize":-2.5,"title":null}}}}
 ],
 "resolve":{"axis":{"x":"independent","y":"independent"}}},
{"width":130,"height":117,"data":{"name":"f"},
 "layer":[
  {"transform":[{"filter":"datum.s=='g'"}],"mark":{"type":"line","color":"#808080","strokeWidth":1.3},
   "encoding":{"x":{"field":"x","type":"quantitative","scale":{"domain":[20,45],"nice":false,"zero":false},"axis":{"orient":"bottom","values":[25,30,35,40],"title":"Wavelength [µm]","titlePadding":2}},
               "y":{"field":"y","type":"quantitative","scale":{"domain":[0,75],"nice":false,"zero":false},"axis":{"orient":"left","values":[0,20,40,60],"labels":false,"title":null}}}},
  {"transform":[{"filter":"datum.s=='b1'"}],"mark":{"type":"line","color":"black","strokeWidth":1.3},
   "encoding":{"x":{"field":"x","type":"quantitative","scale":{"domain":[20,45],"nice":false,"zero":false},"axis":{"orient":"top","values":[25,30,35,40],"labels":false,"title":null}},
               "y":{"field":"y","type":"quantitative","scale":{"domain":[0,75],"nice":false,"zero":false},"axis":{"orient":"right","values":[0,20,40,60],"labelFlush":true,"labelPadding":8,"title":null}}}},
  {"transform":[{"filter":"datum.s=='b2'"}],"mark":{"type":"line","color":"black","strokeWidth":1.3},
   "encoding":{"x":{"field":"x","type":"quantitative","scale":{"domain":[20,45],"nice":false,"zero":false},"axis":{"orient":"bottom","values":[21,22,23,24,26,27,28,29,31,32,33,34,36,37,38,39,41,42,43,44],"labels":false,"tickSize":-2.5,"title":null}},
               "y":{"field":"y","type":"quantitative","scale":{"domain":[0,75],"nice":false,"zero":false},"axis":{"orient":"left","values":[5,10,15,25,30,35,45,50,55,65,70,75],"labels":false,"tickSize":-2.5,"title":null}}}},
  {"data":{"values":[{"t":"IC 5117"}]},"mark":{"type":"text","fontSize":15,"fontWeight":"normal","align":"center","baseline":"alphabetic","font":"Liberation Sans","color":"black"},
   "encoding":{"text":{"field":"t"},
               "x":{"datum":31.6,"type":"quantitative","scale":{"domain":[20,45],"nice":false,"zero":false},"axis":{"orient":"top","values":[21,22,23,24,26,27,28,29,31,32,33,34,36,37,38,39,41,42,43,44],"labels":false,"tickSize":-2.5,"title":null}},
               "y":{"datum":5.8,"type":"quantitative","scale":{"domain":[0,75],"nice":false,"zero":false},"axis":{"orient":"right","values":[5,10,15,25,30,35,45,50,55,65,70,75],"labels":false,"tickSize":-2.5,"title":null}}}}
 ],
 "resolve":{"axis":{"x":"independent","y":"independent"}}}
],
"config":{
 "view":{"stroke":"black","strokeWidth":1},
 "axis":{"domain":false,"grid":false,"tickSize":-5,"tickColor":"black","tickWidth":1,"labelFont":"Liberation Sans","labelFontSize":11,"labelColor":"black","titleFont":"Liberation Sans","titleFontSize":11.5,"titleFontWeight":"normal","titleColor":"black"},
 "axisX":{"labelPadding":8,"labelFlush":false},
 "axisY":{"labelPadding":9}
}
}
